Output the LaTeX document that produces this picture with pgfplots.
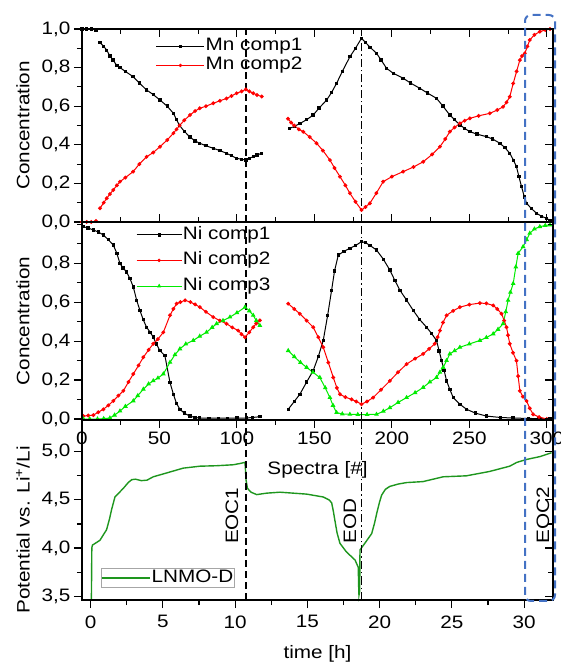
\documentclass[border=0pt]{standalone}
\usepackage{pgfplots}
\pgfplotsset{compat=1.18}
\usepackage{fontspec}
\setmainfont{Liberation Sans}[FakeStretch=1.15]
\definecolor{myred}{RGB}{255,0,0}
\definecolor{mygreen}{RGB}{0,235,0}
\definecolor{potgreen}{RGB}{30,150,30}
\definecolor{boxblue}{RGB}{68,114,196}
\newcommand{\bigf}{\fontsize{18}{21.6}\selectfont}
\tikzset{
  dline/.style={black, line width=1.6pt, dash pattern=on 7pt off 4pt},
  ddline/.style={black, line width=1.6pt, dash pattern=on 8pt off 3pt on 1.5pt off 3pt},
}
\pgfplotsset{
  panel/.style={
    scale only axis, width=471pt, clip=false,
    axis line style={line width=1.2pt},
    every tick/.style={black, line width=1.1pt},
    major tick length=8pt, minor tick length=5pt,
    ticklabel style={font=\bigf},
    legend style={font=\bigf},
    /pgf/number format/assume math mode=true,
    yticklabel style={/pgf/number format/.cd, use comma, fixed, fixed zerofill, precision=1},
    every axis y label/.style={at={(axis description cs:-0.1253,0.5)}, rotate=90, anchor=center, font=\bigf},
    every axis x label/.style={at={(axis description cs:0.5,0)}, yshift=-55pt, anchor=base, font=\bigf},
  },
  blk/.style={black, line width=1.0pt, mark=square*, mark size=1.2pt, mark options={solid}},
  rd/.style={myred, line width=1.0pt, mark=*, mark size=1.4pt, mark options={solid}},
  gr/.style={mygreen, line width=1.0pt, mark=triangle*, mark size=1.8pt, mark options={solid}},
}
\begin{document}
\begin{tikzpicture}
\useasboundingbox (0pt,0pt) rectangle (560pt,663pt);
% ---------------- TOP PANEL ----------------
\begin{axis}[panel, at={(82pt,441pt)}, anchor=south west, height=193pt,
  xmin=0, xmax=304, ymin=0, ymax=1,
  xtick={0,50,...,300}, minor x tick num=1, xticklabels={},
  ytick={0,0.2,...,1.0}, minor y tick num=1,
  ytick pos=left, xtick pos=both, tick align=outside,
  x tick style={draw=none}, minor x tick style={draw=none},
  ylabel={Concentration},
  unbounded coords=jump,
  legend style={at={(axis description cs:0.157,0.96)}, anchor=north west, draw=none, fill=none, inner sep=0pt,
    nodes={inner sep=1pt, text height=13pt, text depth=4pt}},
  legend cell align=left,
  legend image code/.code={\draw[mark repeat=2,mark phase=2,#1,line width=0.6pt] plot coordinates {(0pt,0pt) (24pt,0pt) (48pt,0pt)};},
]
\addplot[blk] coordinates {(0,1.0)(3,1.0)(6,1.0)(9,0.995)(10,nan)
(11.6,0.93)(14,0.91)(16,0.89)(18,0.86)(20,0.84)(22.5,0.81)(24.5,0.80)(28,0.78)(33,0.753)(37,0.72)(41.7,0.684)(46,0.66)(50.3,0.632)(55,0.60)(59,0.563)(61,0.53)(63,0.50)(66,0.47)(69.7,0.44)(73,0.42)(76,0.408)(80,0.395)(84.7,0.382)(89,0.37)(93.3,0.356)(96.5,0.343)(99.8,0.33)(103,0.325)(105.8,0.321)(108,0.33)(110.5,0.338)(113,0.347)(116,0.356)(120,nan)
(134,0.485)(137,0.495)(140.6,0.51)(145,0.53)(149.2,0.554)(153,0.59)(157.9,0.632)(161,0.67)(164.3,0.718)(168,0.78)(172.9,0.856)(176.5,0.90)(180.4,0.952)(183,0.93)(186,0.905)(190.1,0.874)(193,0.84)(196.6,0.796)(201,0.77)(207.3,0.745)(212,0.72)(218,0.693)(223,0.668)(228.8,0.641)(233,0.60)(237.4,0.554)(240.5,0.53)(243.9,0.503)(247,0.485)(250.3,0.468)(255,0.455)(261.1,0.442)(265,0.43)(269.7,0.408)(273,0.385)(276.1,0.356)(278.5,0.32)(280.4,0.287)(282,0.235)(283.7,0.183)(285.5,0.13)(286.9,0.097)(290,0.07)(293.4,0.045)(296.5,0.03)(299.8,0.019)(302,0.008)};
\addlegendentry{Mn comp1}
\addplot[rd] coordinates {(0,0)(3,0)(6,0)(9,0.005)(10,nan)
(11.6,0.071)(14,0.10)(16,0.123)(18,0.145)(20.2,0.166)(22.5,0.19)(24.5,0.209)(28,0.23)(33,0.261)(37,0.30)(41.7,0.338)(46,0.36)(50.3,0.39)(55,0.425)(59,0.46)(61,0.48)(63,0.50)(66,0.527)(69.7,0.554)(73,0.575)(76,0.589)(80,0.60)(84.7,0.615)(89,0.628)(93.3,0.64)(96.5,0.653)(99.8,0.667)(103,0.677)(105.8,0.687)(108,0.677)(110.5,0.667)(113,0.658)(116,0.65)(120,nan)
(133,0.535)(135,0.515)(137,0.50)(140,0.48)(142.8,0.468)(147,0.44)(151.4,0.408)(155.5,0.37)(160,0.321)(163,0.28)(166.5,0.235)(170,0.19)(172.9,0.149)(176.5,0.105)(180.4,0.062)(183,0.078)(185.8,0.097)(190,0.15)(194.4,0.209)(200,0.235)(207.3,0.261)(214,0.285)(220.2,0.312)(226,0.35)(231,0.39)(234.5,0.43)(237.4,0.468)(240.5,0.49)(243.9,0.511)(247,0.525)(250.3,0.537)(256,0.55)(263.2,0.563)(268,0.58)(271.8,0.597)(274,0.62)(276.1,0.649)(278.3,0.718)(280.5,0.78)(282.6,0.839)(284,0.86)(285.8,0.874)(287.5,0.91)(289,0.943)(292,0.97)(295.5,0.986)(299,0.995)(302,1.0)};
\addlegendentry{Mn comp2}
\draw[dline] ({axis cs:106,0}|-{rel axis cs:0,0}) -- ({axis cs:106,0}|-{rel axis cs:0,1});
\draw[ddline] ({axis cs:180.5,0}|-{rel axis cs:0,0}) -- ({axis cs:180.5,0}|-{rel axis cs:0,1});
\end{axis}
\begin{axis}[panel, at={(82pt,441pt)}, anchor=south west, height=193pt,
  xmin=0, xmax=304, ymin=0, ymax=1,
  xtick={0,50,...,300}, minor x tick num=1, xticklabels={},
  ytick={0,0.2,...,1.0}, minor y tick num=1, yticklabels={},
  ytick pos=right, xtick pos=both, tick align=inside]
\end{axis}
% ---------------- MIDDLE PANEL ----------------
\begin{axis}[panel, at={(82pt,243pt)}, anchor=south west, height=198pt,
  xmin=0, xmax=304, ymin=-0.005, ymax=1.011,
  xtick={0,50,...,300}, minor x tick num=1,
  ytick={0,0.2,...,0.8}, minor ytick={0.1,0.3,0.5,0.7,0.9,1.0},
  ytick pos=left, xtick pos=bottom, tick align=outside,
  xlabel={Spectra [\#]}, ylabel={Concentration},
  unbounded coords=jump,
  legend style={at={(axis description cs:0.115,0.985)}, anchor=north west, draw=none, fill=none, inner sep=0pt, row sep=6.7pt,
    nodes={inner sep=1pt, text height=13pt, text depth=4pt}},
  legend cell align=left,
  legend image code/.code={\draw[mark repeat=2,mark phase=2,#1,line width=0.6pt] plot coordinates {(0pt,0pt) (22.5pt,0pt) (45pt,0pt)};},
]
\addplot[blk] coordinates {(0.9,0.987)(4,0.98)(7.3,0.97)(10.5,0.96)(13.8,0.944)(17,0.92)(20.2,0.893)(22.5,0.85)(24.5,0.798)(26.5,0.775)(28.8,0.755)(31,0.72)(33.1,0.678)(35.3,0.609)(37.4,0.557)(39.5,0.51)(41.7,0.471)(44,0.445)(46,0.42)(48,0.385)(50.3,0.351)(53.5,0.325)(56.8,0.187)(59,0.127)(61,0.08)(63.2,0.05)(66,0.03)(69.7,0.015)(73,0.008)(76,0.005)(82,0.004)(88,0.004)(94,0.004)(100,0.005)(106,0.005)(110,0.008)(115,0.012)(120,nan)
(133.1,0.05)(137,0.09)(140.6,0.127)(145,0.19)(149.2,0.248)(152.5,0.32)(155.7,0.403)(158.5,0.53)(161.1,0.661)(163,0.76)(165.4,0.841)(169,0.86)(172.9,0.876)(176.5,0.89)(180.4,0.91)(183,0.905)(186,0.89)(190.1,0.867)(194.5,0.82)(198.7,0.764)(202,0.71)(205.2,0.661)(209.5,0.61)(213.8,0.557)(218,0.51)(222.4,0.471)(225.5,0.44)(228.8,0.403)(230.5,0.35)(232.1,0.299)(233.7,0.25)(235.3,0.196)(237.5,0.15)(239.6,0.11)(244,0.075)(248.2,0.05)(254,0.03)(261.1,0.015)(270,0.008)(278.3,0.005)(288,0.003)(295,0.002)(302,0.0)};
\addlegendentry{Ni comp1}
\addplot[rd] coordinates {(0.9,0.015)(4,0.018)(7.3,0.02)(10.5,0.035)(13.8,0.05)(17,0.07)(20.2,0.093)(23.5,0.12)(26.7,0.145)(30,0.19)(33.1,0.231)(36.5,0.275)(39.6,0.317)(43,0.355)(46,0.386)(49,0.41)(52.5,0.445)(56.8,0.532)(59,0.565)(61.1,0.592)(63.5,0.60)(66.5,0.609)(70,0.60)(73,0.588)(76.1,0.574)(80,0.55)(84.7,0.523)(89,0.505)(93.3,0.489)(97,0.47)(100.8,0.454)(103,0.435)(105.2,0.42)(108,0.445)(110.5,0.471)(112.5,0.49)(114.8,0.506)(120,nan)
(133.1,0.592)(137,0.565)(140.6,0.54)(145,0.505)(149.2,0.471)(152.5,0.42)(155.7,0.368)(159,0.29)(162.2,0.213)(164.5,0.16)(166.5,0.127)(170,0.112)(174,0.101)(177,0.09)(180.4,0.076)(184,0.09)(187.9,0.11)(193,0.15)(198.7,0.196)(204,0.24)(209.5,0.282)(215,0.31)(220.2,0.334)(224,0.36)(227.7,0.386)(229.5,0.42)(231,0.454)(233,0.495)(235.3,0.532)(239.5,0.555)(243.9,0.574)(250,0.587)(256.8,0.595)(261,0.593)(265.4,0.583)(268,0.565)(270.8,0.54)(272.5,0.505)(274,0.471)(275,0.43)(276.1,0.386)(278.2,0.34)(280.4,0.299)(281.5,0.22)(282.6,0.145)(284.5,0.115)(286.9,0.093)(289,0.055)(291.2,0.024)(295,0.01)(300,0.0)};
\addlegendentry{Ni comp2}
\addplot[gr] coordinates {(0.9,0)(5,0)(10,0)(14,0.002)(18,0.005)(21,0.02)(24.5,0.041)(28,0.065)(33.1,0.093)(36,0.12)(39.6,0.153)(43,0.18)(46,0.196)(49,0.21)(52.5,0.231)(56.8,0.291)(60,0.33)(63.2,0.36)(67,0.385)(71.8,0.403)(76,0.425)(80.4,0.445)(84,0.47)(86.9,0.489)(91,0.505)(95.5,0.523)(100,0.545)(105.2,0.574)(108,0.555)(110.5,0.532)(112.5,0.505)(114.8,0.48)(120,nan)
(133.1,0.351)(137,0.32)(141,0.29)(145,0.265)(149,0.24)(153.5,0.213)(157,0.16)(160,0.11)(162,0.07)(164.3,0.033)(168,0.026)(172.9,0.024)(178,0.023)(184,0.023)(190.1,0.024)(194.5,0.04)(198.7,0.058)(204,0.085)(209.5,0.11)(215,0.135)(220.2,0.162)(224.5,0.19)(228.8,0.213)(231,0.24)(233.1,0.265)(235.3,0.30)(237.4,0.334)(240.5,0.35)(243.9,0.368)(250,0.385)(256.8,0.403)(261,0.418)(265.4,0.437)(268.5,0.46)(271.8,0.489)(273.5,0.55)(275,0.609)(276.5,0.65)(278.3,0.695)(280,0.78)(281.5,0.85)(284.7,0.884)(287,0.92)(289,0.953)(292,0.975)(295.5,0.987)(299,0.993)(302,0.996)};
\addlegendentry{Ni comp3}
\draw[dline] ({axis cs:106,0}|-{rel axis cs:0,0}) -- ({axis cs:106,0}|-{rel axis cs:0,1});
\draw[ddline] ({axis cs:180.5,0}|-{rel axis cs:0,0}) -- ({axis cs:180.5,0}|-{rel axis cs:0,1});
\end{axis}
\begin{axis}[panel, at={(82pt,243pt)}, anchor=south west, height=198pt,
  xmin=0, xmax=304, ymin=-0.005, ymax=1.011,
  xtick=\empty,
  ytick={0,0.2,...,0.8}, minor ytick={0.1,0.3,0.5,0.7,0.9,1.0}, yticklabels={},
  ytick pos=right, tick align=inside]
\end{axis}
% ---------------- BOTTOM PANEL ----------------
\begin{axis}[panel, at={(82pt,63pt)}, anchor=south west, height=180pt,
  xmin=-0.6, xmax=32, ymin=3.46, ymax=5.33,
  xtick={0,5,...,30}, minor x tick num=1,
  ytick={3.5,4.0,4.5,5.0}, minor y tick num=1,
  ytick pos=left, xtick pos=bottom, tick align=outside,
  xticklabel shift=4pt,
  xlabel={time [h]}, ylabel={Potential vs. Li\textsuperscript{+}/Li},
  every axis x label/.style={at={(axis description cs:0.5,0)}, yshift=-58pt, anchor=base, font=\bigf},
  every axis y label/.style={at={(axis description cs:-0.1253,0.389)}, rotate=90, anchor=center, font=\bigf},
  legend style={at={(axis description cs:0.0403,0.0667)}, anchor=south west, draw=gray!70, line width=0.6pt, fill=white, inner sep=0pt,
    nodes={inner sep=1pt, text height=13pt, text depth=4pt}},
  legend image code/.code={\draw[#1] (0pt,0pt) -- (48pt,0pt);},
]
\addplot[potgreen, line width=1.4pt] coordinates {(0,3.46)(0.05,3.46)(0.08,4.0)(0.12,4.03)(0.64,4.08)(1.1,4.19)(1.3,4.30)(1.45,4.40)(1.68,4.53)(2.26,4.62)(2.6,4.68)(2.84,4.71)(3.1,4.715)(3.5,4.70)(3.9,4.705)(4.33,4.74)(5.26,4.78)(6.41,4.83)(7.56,4.85)(8.72,4.855)(9.87,4.865)(10.4,4.88)(10.68,4.89)(10.72,4.80)(10.75,4.71)(10.85,4.62)(11.1,4.58)(11.49,4.555)(12.18,4.57)(13.1,4.58)(14.95,4.56)(16.1,4.53)(16.5,4.50)(16.68,4.47)(16.8,4.38)(16.9,4.29)(17.05,4.16)(17.25,4.05)(17.7,3.96)(18.3,3.875)(18.52,3.80)(18.55,3.6)(18.57,3.51)(18.62,3.55)(18.64,3.98)(18.98,4.05)(19.45,4.15)(19.65,4.26)(19.8,4.36)(20.0,4.48)(20.14,4.55)(20.4,4.61)(20.7,4.64)(21.3,4.665)(21.87,4.68)(23,4.69)(24.4,4.74)(26,4.75)(27.6,4.795)(29,4.85)(29.5,4.89)(30.17,4.92)(31.1,4.95)(31.9,4.99)};
\addlegendentry{LNMO-D}
\draw[dline] ({axis cs:10.75,4}|-{rel axis cs:0,0}) -- ({axis cs:10.75,4}|-{rel axis cs:0,1});
\draw[ddline] ({axis cs:18.75,4}|-{rel axis cs:0,0}) -- ({axis cs:18.75,4}|-{rel axis cs:0,1});
\node[rotate=90, anchor=west, inner sep=0pt, font=\bigf] at (axis cs:9.78,4.04) {EOC1};
\node[rotate=90, anchor=west, inner sep=0pt, font=\bigf] at (axis cs:17.94,4.05) {EOD};
\node[rotate=90, anchor=west, inner sep=0pt, font=\bigf] at (axis cs:31.3,4.05) {EOC2};
\end{axis}
\begin{axis}[panel, at={(82pt,63pt)}, anchor=south west, height=180pt,
  xmin=-0.6, xmax=32, ymin=3.46, ymax=5.33,
  xtick=\empty,
  ytick={3.5,4.0,4.5,5.0}, minor y tick num=1, yticklabels={},
  ytick pos=right, tick align=inside]
\end{axis}
% blue highlight box
\draw[boxblue, line width=2pt, dash pattern=on 8pt off 5pt, rounded corners=6pt] (525pt,62pt) rectangle (555pt,648pt);
\end{tikzpicture}
\end{document}
